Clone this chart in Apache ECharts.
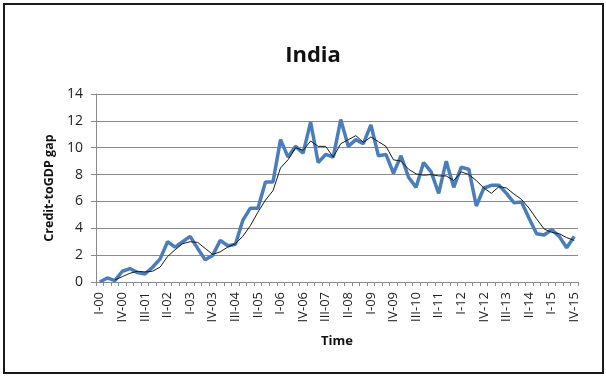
<!DOCTYPE html>
<html>
<head>
<meta charset="utf-8">
<script src="https://cdn.jsdelivr.net/npm/echarts@6/dist/echarts.min.js"></script>
<style>
  html, body { margin: 0; padding: 0; background: #fff; }
  #chart { width: 606px; height: 376px; }
</style>
</head>
<body>
<div id="chart"></div>
<script>
// quarters I-00 .. IV-15
var quarters = [
  'I-00', 'II-00', 'III-00', 'IV-00', 'I-01', 'II-01', 'III-01', 'IV-01',
  'I-02', 'II-02', 'III-02', 'IV-02', 'I-03', 'II-03', 'III-03', 'IV-03',
  'I-04', 'II-04', 'III-04', 'IV-04', 'I-05', 'II-05', 'III-05', 'IV-05',
  'I-06', 'II-06', 'III-06', 'IV-06', 'I-07', 'II-07', 'III-07', 'IV-07',
  'I-08', 'II-08', 'III-08', 'IV-08', 'I-09', 'II-09', 'III-09', 'IV-09',
  'I-10', 'II-10', 'III-10', 'IV-10', 'I-11', 'II-11', 'III-11', 'IV-11',
  'I-12', 'II-12', 'III-12', 'IV-12', 'I-13', 'II-13', 'III-13', 'IV-13',
  'I-14', 'II-14', 'III-14', 'IV-14', 'I-15', 'II-15', 'III-15', 'IV-15'
]

// credit-to-GDP gap (blue)
var gap = [
  0, 0.3, 0.1, 0.8, 1.0, 0.7, 0.6, 1.1,
  1.7, 3.0, 2.6, 3.0, 3.4, 2.5, 1.65, 2.0,
  3.1, 2.7, 2.8, 4.6, 5.5, 5.5, 7.45, 7.45,
  10.6, 9.3, 10.1, 9.6, 11.9, 8.9, 9.5, 9.3,
  12.1, 10.1, 10.6, 10.3, 11.7, 9.4, 9.5, 8.1,
  9.4, 7.8, 7.05, 8.9, 8.2, 6.6, 9.0, 7.05,
  8.55, 8.4, 5.66, 7.0, 7.2, 7.2, 6.6, 5.9,
  5.95, 4.74, 3.6, 3.5, 3.9, 3.4, 2.55, 3.4
]

// thin black trend line
var trend = [
  '-', '-', 0.15, 0.4, 0.65, 0.8, 0.75, 0.8,
  1.1, 1.9, 2.4, 2.85, 3.0, 2.95, 2.5, 2.05,
  2.25, 2.6, 2.85, 3.4, 4.2, 5.2, 6.1, 6.8,
  8.5, 9.1, 10.0, 9.8, 10.5, 10.1, 10.1, 9.3,
  10.3, 10.6, 10.9, 10.4, 10.8, 10.45, 10.1, 9.1,
  9.0, 8.4, 8.05, 7.95, 8.0, 7.9, 7.9, 7.55,
  8.2, 8.0, 7.55, 7.0, 6.6, 7.1, 7.0, 6.55,
  6.15, 5.5, 4.7, 3.95, 3.7, 3.6, 3.3, 3.1
]

var chart = echarts.init(document.getElementById('chart'))
var font = '"Open Sans", sans-serif'

chart.setOption({
  animation: false,
  backgroundColor: '#fff',
  title: {
    text: 'India',
    left: 308,
    textAlign: 'center',
    top: 40,
    textStyle: { fontFamily: font, fontSize: 22, fontWeight: 'bold', color: '#111' }
  },
  graphic: [{
    type: 'rect',
    shape: { x: 4, y: 4, width: 599, height: 369 },
    style: { fill: 'none', stroke: '#1a1a1a', lineWidth: 2 },
    silent: true
  }],
  grid: {
    left: 96,
    right: 28,
    top: 94,
    bottom: 94
  },
  xAxis: {
    type: 'category',
    data: quarters,
    boundaryGap: true,
    name: 'Time',
    nameLocation: 'middle',
    nameGap: 53,
    nameTextStyle: { fontFamily: font, fontSize: 13, fontWeight: 'bold', color: '#111' },
    axisLine: { lineStyle: { color: '#8a8a8a', width: 1 } },
    axisTick: { show: true, interval: 0, length: 4, lineStyle: { color: '#8a8a8a' } },
    axisLabel: {
      interval: 2,
      rotate: 90,
      margin: 10,
      fontFamily: font,
      fontSize: 13,
      color: '#222'
    },
    splitLine: { show: false }
  },
  yAxis: {
    type: 'value',
    min: 0,
    max: 14,
    interval: 2,
    name: 'Credit-toGDP gap',
    nameLocation: 'middle',
    nameGap: 37,
    nameTextStyle: { fontFamily: font, fontSize: 12.5, fontWeight: 'bold', color: '#111' },
    axisLine: { show: true, lineStyle: { color: '#8a8a8a', width: 1 } },
    axisTick: { show: true, length: 5, lineStyle: { color: '#8a8a8a' } },
    axisLabel: { fontFamily: font, fontSize: 14, color: '#222', margin: 13 },
    splitLine: { lineStyle: { color: '#8a8a8a', width: 1 } }
  },
  series: [{
    name: 'gap',
    type: 'line',
    data: gap,
    symbol: 'none',
    lineStyle: { color: '#4a7dbb', width: 3.5 },
    z: 2
  },
  {
    name: 'trend',
    type: 'line',
    data: trend,
    symbol: 'none',
    lineStyle: { color: '#1a1a1a', width: 1 },
    z: 3
  }]
})
</script>
</body>
</html>
